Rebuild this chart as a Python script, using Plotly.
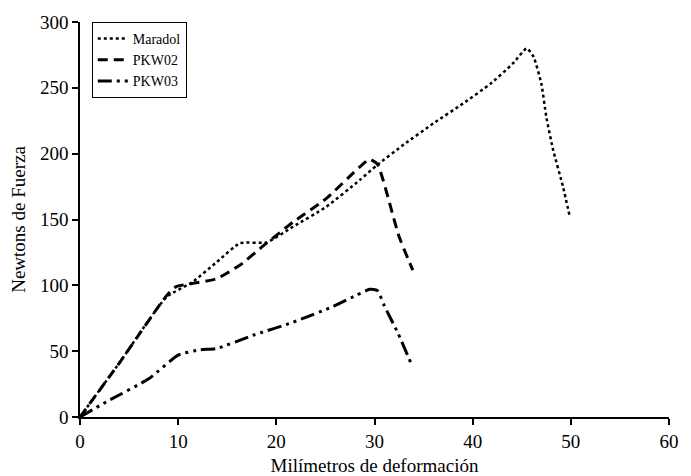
import plotly.graph_objects as go

# Data
maradol_x = [0, 4, 8.8, 11.5, 13.9, 16.3, 19, 21.7, 25.1, 28.5, 30.2, 33, 36, 39, 41.8, 44.1, 45.5, 46.2, 47, 47.5, 48.2, 49.2, 49.9]
maradol_y = [0, 41, 91, 102.7, 117.5, 132, 132.6, 144.5, 159.7, 180, 191, 207, 223, 238, 253, 268.5, 280, 273.6, 253, 228, 202.7, 175, 152]

pkw02_x = [0, 4, 8.8, 9.8, 11.5, 13.9, 16.3, 19, 21.7, 25.1, 28.5, 29.5, 30.3, 32.5, 33.9]
pkw02_y = [0, 41, 92, 99, 101.5, 105, 115.4, 132, 148, 166, 190, 195.7, 192, 137, 111.6]

pkw03_x = [0, 2.7, 7, 10, 12.2, 13.9, 17.6, 21.7, 25.8, 28.2, 29.5, 30.3, 31, 32.4, 33.8]
pkw03_y = [0, 11.6, 29, 47, 51, 52, 62, 72, 84, 92.6, 97, 96, 84.5, 63.5, 39.5]

series_names = ["Maradol", "PKW02", "PKW03"]
x_title = "Milímetros de deformación"
y_title = "Newtons de Fuerza"

FONT = "Liberation Serif, Times New Roman, serif"

fig = go.Figure()
fig.add_trace(go.Scatter(x=maradol_x, y=maradol_y, mode="lines", name=series_names[0],
                         line=dict(color="black", width=2.5, dash="dot", shape="spline", smoothing=0.5)))
fig.add_trace(go.Scatter(x=pkw02_x, y=pkw02_y, mode="lines", name=series_names[1],
                         line=dict(color="black", width=3, dash="10px,6px", shape="spline", smoothing=0.5)))
fig.add_trace(go.Scatter(x=pkw03_x, y=pkw03_y, mode="lines", name=series_names[2],
                         line=dict(color="black", width=3, dash="14px,5px,3px,5px,3px,5px", shape="spline", smoothing=0.5)))

axis_common = dict(showgrid=False, zeroline=False, showline=True, linecolor="black", linewidth=1.5,
                   ticks="outside", ticklen=6, tickwidth=1.5, tickcolor="black", automargin=False,
                   tickfont=dict(family=FONT, size=19, color="black"))

fig.update_layout(
    width=683, height=468,
    margin=dict(l=72, r=22, t=14, b=59),
    paper_bgcolor="white", plot_bgcolor="white",
    font=dict(family=FONT, color="black"),
    xaxis=dict(range=[0, 60], dtick=10, title=dict(text=x_title, font=dict(family=FONT, size=19), standoff=10),
               **axis_common),
    yaxis=dict(range=[0, 300], dtick=50, title=dict(text=y_title, font=dict(family=FONT, size=19), standoff=14),
               **axis_common),
    legend=dict(x=0.02, y=1.0, xanchor="left", yanchor="top", bordercolor="black", borderwidth=1,
                bgcolor="white", font=dict(family=FONT, size=14, color="black"),
                tracegroupgap=0, itemwidth=30),
    showlegend=True,
)

fig.write_html("out.html")
